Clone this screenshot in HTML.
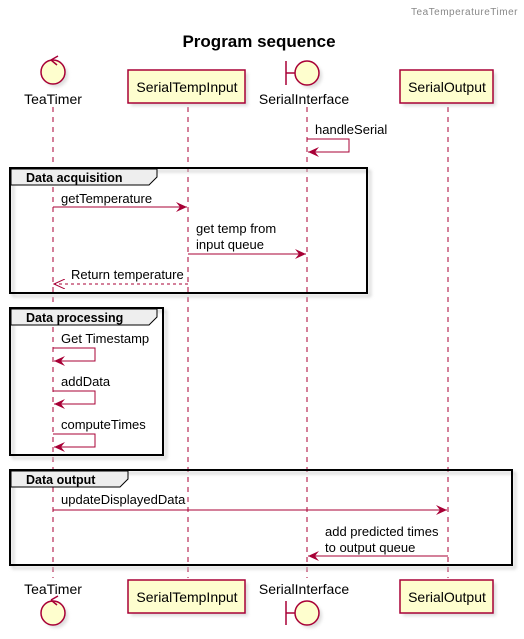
<!DOCTYPE html>
<html><head><meta charset="utf-8"><style>html,body{margin:0;padding:0;background:#fff}svg{display:block}</style></head><body>
<svg width="524" height="639" viewBox="0 0 524 639" xmlns="http://www.w3.org/2000/svg" font-family="Liberation Sans, sans-serif">
<defs>
<filter id="sh" x="-10%" y="-10%" width="130%" height="140%"><feGaussianBlur stdDeviation="1.5"/></filter>
<marker id="ah" markerWidth="12" markerHeight="10" refX="11" refY="5" orient="auto" markerUnits="userSpaceOnUse"><path d="M0,0 L11,5 L0,10 L4,5 Z" fill="#A80036"/></marker>
<marker id="ao" markerWidth="12" markerHeight="10" refX="11" refY="5" orient="auto" markerUnits="userSpaceOnUse"><path d="M0,0 L11,5 L0,10" fill="none" stroke="#A80036" stroke-width="1"/></marker>
</defs>
<text x="518" y="15" font-size="10" fill="#888" text-anchor="end" letter-spacing="0.5">TeaTemperatureTimer</text>
<text x="259" y="47" font-size="17" font-weight="bold" text-anchor="middle">Program sequence</text>
<g stroke="#A80036" stroke-dasharray="5,5" stroke-width="1">
<line x1="53" y1="107" x2="53" y2="578"/><line x1="188" y1="107" x2="188" y2="578"/>
<line x1="307" y1="107" x2="307" y2="578"/><line x1="448" y1="107" x2="448" y2="578"/>
</g>
<g fill="#FEFECE" stroke="#A80036" stroke-width="1.5">
<rect x="131" y="73" width="117" height="33" fill="#ddd" stroke="none" filter="url(#sh)"/>
<rect x="128" y="70" width="117" height="33"/>
<rect x="403" y="73" width="93" height="33" fill="#ddd" stroke="none" filter="url(#sh)"/>
<rect x="400" y="70" width="93" height="33"/>
<circle cx="56" cy="75" r="12" fill="#ddd" stroke="none" filter="url(#sh)"/>
<circle cx="53" cy="72" r="12"/>
<circle cx="310" cy="76" r="12" fill="#ddd" stroke="none" filter="url(#sh)"/>
<circle cx="307" cy="73" r="12"/>
<line x1="286" y1="61" x2="286" y2="85"/><line x1="286" y1="73" x2="295" y2="73"/>
<circle cx="56" cy="616" r="12" fill="#ddd" stroke="none" filter="url(#sh)"/>
<circle cx="53" cy="613" r="12"/>
<rect x="131" y="583" width="117" height="33" fill="#ddd" stroke="none" filter="url(#sh)"/>
<rect x="128" y="580" width="117" height="33"/>
<rect x="403" y="583" width="93" height="33" fill="#ddd" stroke="none" filter="url(#sh)"/>
<rect x="400" y="580" width="93" height="33"/>
<circle cx="310" cy="616" r="12" fill="#ddd" stroke="none" filter="url(#sh)"/>
<circle cx="307" cy="613" r="12"/>
<line x1="286" y1="601" x2="286" y2="625"/><line x1="286" y1="613" x2="295" y2="613"/>
</g>
<g fill="none" stroke="#A80036" stroke-width="1.5">
<path d="M51,60 L58,56 M51,60 L57,65"/>
<path d="M51,600 L58,596 M51,600 L57,605"/>
</g>
<g font-size="14" text-anchor="middle" fill="#000">
<text x="53" y="104">TeaTimer</text><text x="187" y="92">SerialTempInput</text>
<text x="304" y="104">SerialInterface</text><text x="447" y="92">SerialOutput</text>
<text x="53" y="594">TeaTimer</text><text x="187" y="602">SerialTempInput</text>
<text x="304" y="594">SerialInterface</text><text x="447" y="602">SerialOutput</text>
</g>
<g fill="none" stroke="#000" stroke-width="2">
<rect x="13" y="171" width="357" height="125" stroke="#ccc" filter="url(#sh)"/>
<rect x="10" y="168" width="357" height="125" fill="none"/>
<rect x="13" y="311" width="153" height="147" stroke="#ccc" filter="url(#sh)"/>
<rect x="10" y="308" width="153" height="147"/>
<rect x="13" y="473" width="502" height="95" stroke="#ccc" filter="url(#sh)"/>
<rect x="10" y="470" width="502" height="95"/>
</g>
<g fill="#EEEEEE" stroke="#000" stroke-width="1">
<path d="M11,169 H157 V177 L149,185 H11 Z"/>
<path d="M11,309 H157 V317 L149,325 H11 Z"/>
<path d="M11,471 H128 V479 L120,487 H11 Z"/>
</g>
<g font-size="12.5" font-weight="bold">
<text x="26" y="182">Data acquisition</text>
<text x="26" y="322">Data processing</text>
<text x="26" y="484">Data output</text>
</g>
<g stroke="#A80036" stroke-width="1" fill="none">
<path d="M307,139 H349 V152 H308" marker-end="url(#ah)"/>
<line x1="53" y1="207" x2="187" y2="207" marker-end="url(#ah)"/>
<line x1="188" y1="254" x2="306" y2="254" marker-end="url(#ah)"/>
<line x1="188" y1="284" x2="54" y2="284" stroke-dasharray="3,3" marker-end="url(#ao)"/>
<path d="M53,348 H95 V361 H54" marker-end="url(#ah)"/>
<path d="M53,391 H95 V404 H54" marker-end="url(#ah)"/>
<path d="M53,434 H95 V447 H54" marker-end="url(#ah)"/>
<line x1="53" y1="510" x2="447" y2="510" marker-end="url(#ah)"/>
<line x1="448" y1="556" x2="308" y2="556" marker-end="url(#ah)"/>
</g>
<g font-size="13" fill="#000">
<text x="315" y="134">handleSerial</text>
<text x="61" y="203">getTemperature</text>
<text x="196" y="233">get temp from</text><text x="196" y="249">input queue</text>
<text x="71" y="279">Return temperature</text>
<text x="61" y="343">Get Timestamp</text>
<text x="61" y="386">addData</text>
<text x="61" y="429">computeTimes</text>
<text x="61" y="504">updateDisplayedData</text>
<text x="325" y="536">add predicted times</text><text x="325" y="552">to output queue</text>
</g>
</svg>
</body></html>
